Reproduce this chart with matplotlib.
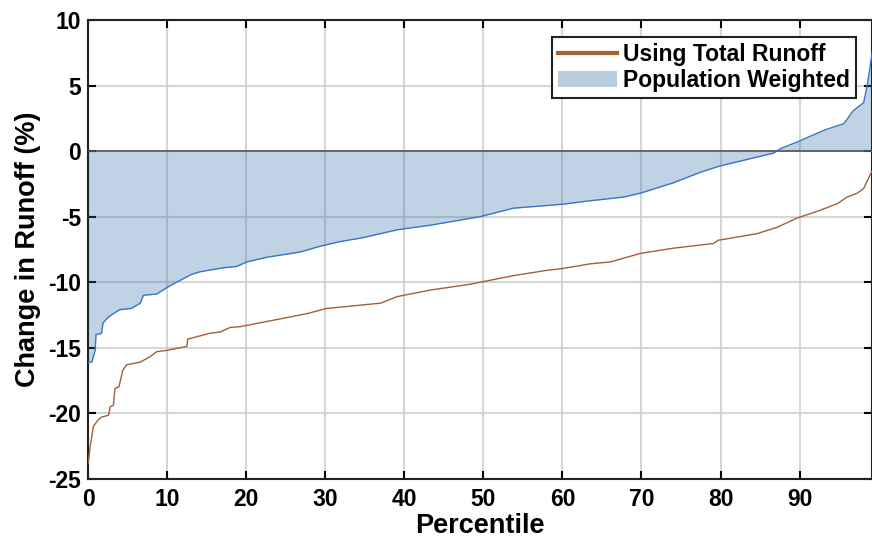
import numpy as np
import matplotlib
matplotlib.use("Agg")
import matplotlib.pyplot as plt

plt.rcParams['font.family'] = ['Liberation Sans', 'DejaVu Sans']
plt.rcParams['font.weight'] = 'bold'
plt.rcParams['axes.unicode_minus'] = False

# population weighted (blue area)
pop_x = [0.0, 0.47, 0.9, 1.0, 1.7, 1.9, 2.5, 3.2, 4.0, 5.5, 6.6, 7.0, 8.7, 10.0, 11.2,
         13.1, 14.2, 17.1, 18.8, 20.1, 22.6, 26.8, 29.4, 31.9, 34.8, 39.1, 43.3, 49.6,
         53.8, 60.1, 63.3, 67.8, 69.9, 74.1, 77.5, 79.8, 82.9, 86.7, 87.6, 89.7, 93.1,
         95.6, 96.8, 98.1, 98.6, 99.2]
pop_y = [-16.1, -16.1, -15.2, -14.0, -13.9, -13.1, -12.7, -12.4, -12.1, -12.0, -11.6,
         -11.0, -10.9, -10.4, -10.0, -9.4, -9.2, -8.9, -8.8, -8.45, -8.1, -7.7, -7.25,
         -6.9, -6.6, -6.0, -5.65, -5.0, -4.35, -4.05, -3.8, -3.5, -3.2, -2.4, -1.6,
         -1.15, -0.7, -0.15, 0.2, 0.7, 1.6, 2.1, 3.1, 3.7, 5.2, 7.6]

# using total runoff (brown line)
tot_x = [0.04, 0.25, 0.67, 1.3, 1.7, 2.6, 2.8, 3.2, 3.4, 3.9, 4.4, 4.9, 6.6, 7.8, 8.7,
         10.0, 12.5, 12.6, 15.4, 16.7, 18.0, 19.2, 22.6, 27.7, 30.2, 32.0, 37.0, 39.1,
         43.3, 48.4, 53.8, 58.0, 60.1, 63.5, 66.1, 69.9, 74.1, 79.1, 79.7, 84.6, 87.2,
         89.7, 92.2, 94.8, 96.0, 97.3, 98.1, 99.0, 99.2]
tot_y = [-23.8, -22.6, -21.0, -20.5, -20.3, -20.15, -19.5, -19.4, -18.1, -18.0, -16.7,
         -16.3, -16.1, -15.7, -15.3, -15.2, -14.9, -14.35, -13.9, -13.8, -13.45, -13.4,
         -13.0, -12.4, -12.0, -11.9, -11.6, -11.1, -10.6, -10.15, -9.5, -9.1, -8.95,
         -8.6, -8.45, -7.8, -7.4, -7.05, -6.8, -6.3, -5.8, -5.1, -4.6, -4.0, -3.5, -3.2,
         -2.85, -1.7, -1.5]

xticks = [0, 10, 20, 30, 40, 50, 60, 70, 80, 90]
yticks = [-25, -20, -15, -10, -5, 0, 5, 10]

fig = plt.figure(figsize=(8.72, 5.44), dpi=100)
ax = fig.add_axes([0.101, 0.12, 0.8985, 0.843])

blue = '#2E6EA6'
brown = '#A65E33'

ax.plot(tot_x, tot_y, color=brown, lw=1.0, zorder=3)
ax.fill_between(pop_x, pop_y, 0, color=blue, alpha=0.3, lw=0, zorder=2)
ax.plot(pop_x, pop_y, color='#3A75C4', lw=1.0, zorder=3)
ax.axhline(0, color='#555555', lw=1.2, zorder=3)

# legend proxies
h1, = ax.plot([], [], color=brown, lw=3)
h2 = plt.Rectangle((0, 0), 1, 1, facecolor=blue, alpha=0.35, edgecolor='none')
leg = ax.legend([h1, h2], ['Using Total Runoff', 'Population Weighted'],
                loc='upper right', bbox_to_anchor=(0.9796, 0.963), fontsize=16.5,
                frameon=True, fancybox=False, edgecolor='#222222', framealpha=1,
                handlelength=2.6, handletextpad=0.25, borderpad=0.25,
                labelspacing=0.15, borderaxespad=0)
leg.get_frame().set_linewidth(1.5)

ax.set_xlim(0, 99.1)
ax.set_ylim(-25, 10)
ax.set_xticks(xticks)
ax.set_yticks(yticks)
ax.grid(True, color='#cccccc', lw=1.5, alpha=0.8, zorder=0)
ax.set_axisbelow(True)
ax.tick_params(direction='in', length=6, width=1.5, labelsize=16.5, top=True, right=True)
ax.tick_params(axis='x', pad=7)
ax.tick_params(axis='y', pad=5)
for s in ax.spines.values():
    s.set_linewidth(1.5)
    s.set_color('#222222')

ax.set_xlabel('Percentile', fontsize=19.5, fontweight='bold', labelpad=1)
ax.set_ylabel('Change in Runoff (%)', fontsize=19.5, fontweight='bold', labelpad=5)

fig.savefig('out.png', dpi=100)
